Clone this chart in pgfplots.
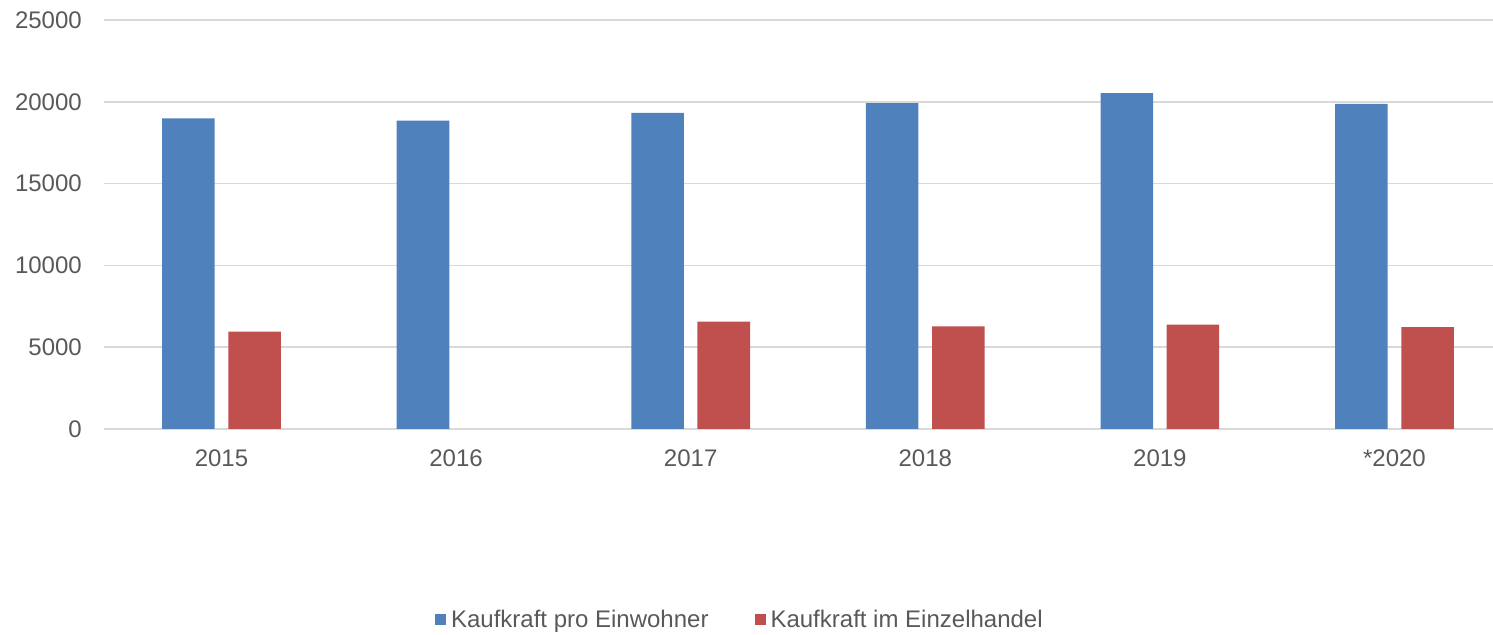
\documentclass[border=0pt]{standalone}
\usepackage{fontspec}
\setmainfont{Liberation Sans}
\usepackage{pgfplots}
\pgfplotsset{compat=1.18}
\definecolor{barblue}{RGB}{79,129,189}
\definecolor{barred}{RGB}{192,80,77}
\definecolor{gridgray}{RGB}{217,217,217}
\definecolor{txtgray}{RGB}{89,89,89}
\begin{document}
\begin{tikzpicture}
\useasboundingbox (-52.1pt,-103pt) rectangle (694.4pt,214.5pt);
\begin{axis}[
  at={(0,0)}, anchor=south west,
  scale only axis,
  width=694.4pt, height=204.5pt,
  xmin=-0.5, xmax=5.42,
  ymin=0, ymax=25000,
  enlargelimits=false,
  ybar,
  bar width=0.224,
  xtick={0,1,2,3,4,5},
  xticklabels={2015,2016,2017,2018,2019,*2020},
  ytick={0,5000,10000,15000,20000,25000},
  scaled y ticks=false,
  /pgf/number format/assume math mode=true,
  yticklabel={\pgfmathprintnumber[fixed,1000 sep={}]{\tick}},
  major tick length=0pt,
  axis lines=left,
  y axis line style={draw=none},
  x axis line style={draw=gridgray, line width=0.75pt, -},
  ymajorgrids,
  grid style={gridgray, line width=0.75pt},
  tick style={draw=none},
  font=\fontsize{12}{14}\selectfont,
  tick label style={text=txtgray, font=\fontsize{12}{14}\selectfont},
  yticklabel style={inner sep=0pt, xshift=-11pt},
  xticklabel style={inner sep=0pt, yshift=-10pt},
  legend columns=2,
  legend style={at={(0.457,-0.467)}, anchor=center, draw=none, fill=none,
    inner sep=0pt, text=txtgray, font=\fontsize{12}{14}\selectfont,
    nodes={inner sep=0pt},
    /tikz/every even column/.append style={column sep=23pt},
    /tikz/every odd column/.append style={column sep=2.5pt}},
  legend cell align=left,
  legend image code/.code={\fill[#1] (0pt,-2.75pt) rectangle (5.5pt,2.75pt);},
]
\addplot[fill=barblue, draw=none, bar shift=-0.141] coordinates {
  (0,18990) (1,18850) (2,19320) (3,19920) (4,20530) (5,19870)};
\addplot[fill=barred, draw=none, bar shift=0.141] coordinates {
  (0,5950) (2,6560) (3,6270) (4,6380) (5,6220)};
\legend{Kaufkraft pro Einwohner, Kaufkraft im Einzelhandel}
\end{axis}
\end{tikzpicture}
\end{document}
